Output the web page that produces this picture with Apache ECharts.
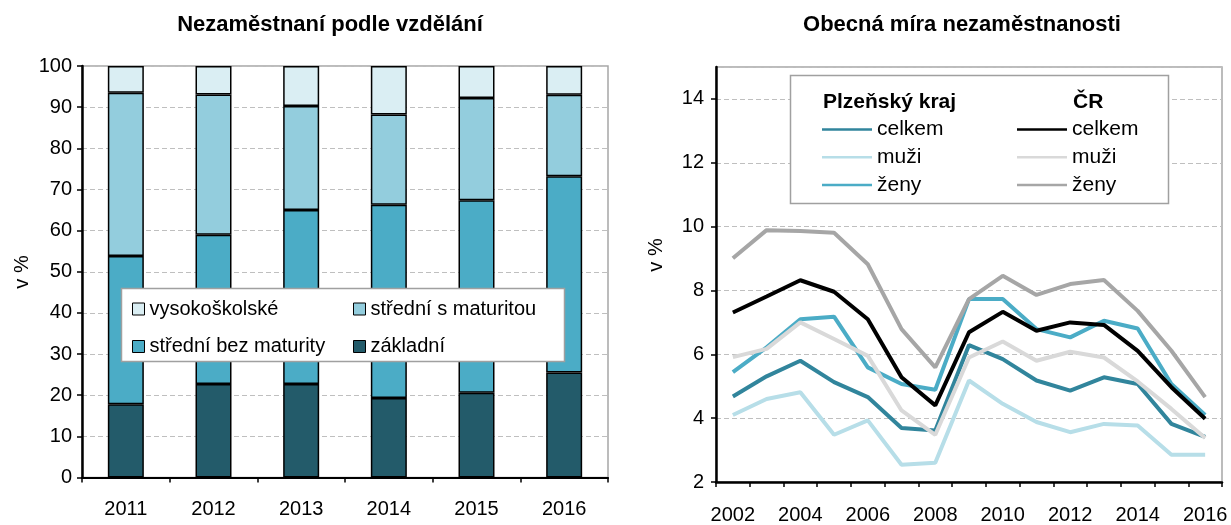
<!DOCTYPE html>
<html>
<head>
<meta charset="utf-8">
<script src="https://cdn.jsdelivr.net/npm/echarts@6/dist/echarts.min.js"></script>
<style>
html,body{margin:0;padding:0;background:#fff;}
#c{width:1231px;height:525px;}
</style>
</head>
<body>
<div id="c"></div>
<script>
// ---- Left chart data ----
const eduYears = ['2011','2012','2013','2014','2015','2016'];
const zakladni = [17.8, 22.7, 22.7, 19.3, 20.6, 25.5];
const stredniBez = [36.0, 36.3, 42.3, 47.0, 46.8, 47.7];
const stredniS = [39.7, 34.1, 25.3, 21.9, 24.8, 19.8];
const vysoko = [6.5, 6.9, 9.7, 11.8, 7.8, 7.0];
const eduTicks = [0, 10, 20, 30, 40, 50, 60, 70, 80, 90, 100];

// ---- Right chart data ----
const rateYears = ['2002','2003','2004','2005','2006','2007','2008','2009','2010','2011','2012','2013','2014','2015','2016'];
const plzenCelkem = [4.68, 5.31, 5.80, 5.13, 4.66, 3.69, 3.61, 6.29, 5.85, 5.18, 4.86, 5.28, 5.07, 3.82, 3.41];
const plzenMuzi   = [4.10, 4.60, 4.81, 3.48, 3.93, 2.54, 2.60, 5.18, 4.45, 3.88, 3.56, 3.82, 3.77, 2.85, 2.85];
const plzenZeny   = [5.44, 6.22, 7.10, 7.18, 5.59, 5.07, 4.89, 7.73, 7.73, 6.79, 6.53, 7.05, 6.81, 5.07, 4.10];
const crCelkem    = [7.31, 7.81, 8.32, 7.96, 7.10, 5.28, 4.40, 6.69, 7.33, 6.74, 7.00, 6.92, 6.11, 4.97, 3.98];
const crMuzi      = [5.91, 6.17, 7.00, 6.48, 5.95, 4.24, 3.48, 5.90, 6.40, 5.80, 6.08, 5.90, 5.15, 4.29, 3.38];
const crZeny      = [9.01, 9.89, 9.86, 9.81, 8.82, 6.79, 5.59, 7.73, 8.46, 7.86, 8.20, 8.33, 7.36, 6.11, 4.66];

const FONT = '"Liberation Sans", Arial, sans-serif';
const chart = echarts.init(document.getElementById('c'));

function bar(name, data, color) {
  return {
    name, type: 'bar', stack: 'edu', data, xAxisIndex: 0, yAxisIndex: 0,
    barWidth: 36,
    itemStyle: { color, borderColor: '#000', borderWidth: 1.5 },
    emphasis: { disabled: true }
  };
}
function line(name, data, color) {
  return {
    name, type: 'line', data, xAxisIndex: 1, yAxisIndex: 1,
    symbol: 'none', lineStyle: { color, width: 4 }, itemStyle: { color },
    emphasis: { disabled: true }
  };
}

const axisLabelStyle = { color: '#000', fontSize: 20, fontFamily: FONT };

chart.setOption({
  animation: false,
  textStyle: { fontFamily: FONT },
  grid: [
    { left: 82, right: 623, top: 66, bottom: 47.5, show: true, borderColor: '#a6a6a6', borderWidth: 1.5, containLabel: false },
    { left: 716, right: 9, top: 67, bottom: 43, show: true, borderColor: '#a6a6a6', borderWidth: 1.5, containLabel: false }
  ],
  xAxis: [
    { type: 'category', gridIndex: 0, data: eduYears,
      axisLine: { lineStyle: { color: '#000', width: 2 } },
      axisTick: { show: true, length: 5, lineStyle: { color: '#000', width: 1.5 } },
      axisLabel: Object.assign({ margin: 22 }, axisLabelStyle) },
    { type: 'category', gridIndex: 1, data: rateYears, boundaryGap: true,
      axisLine: { lineStyle: { color: '#000', width: 2.5 } },
      axisTick: { show: true, interval: 0, length: 5, lineStyle: { color: '#000', width: 1.5 } },
      axisLabel: Object.assign({ margin: 23, interval: 1 }, axisLabelStyle) }
  ],
  yAxis: [
    { type: 'value', gridIndex: 0, min: eduTicks[0], max: eduTicks[eduTicks.length - 1], interval: 10,
      axisLine: { show: true, lineStyle: { color: '#000', width: 2.5 } },
      axisTick: { show: true, length: 5, lineStyle: { color: '#000', width: 1.5 } },
      axisLabel: Object.assign({ margin: 10 }, axisLabelStyle),
      splitLine: { show: true, lineStyle: { color: '#bfbfbf', type: [5, 3], width: 1.2 } } },
    { type: 'value', gridIndex: 1, min: 2, max: 15, interval: 2,
      axisLine: { show: true, lineStyle: { color: '#000', width: 2.5 } },
      axisTick: { show: true, length: 5, lineStyle: { color: '#000', width: 1.5 } },
      axisLabel: Object.assign({ margin: 12, showMaxLabel: false,
        formatter: v => (v === 15 ? '' : String(v)) }, axisLabelStyle),
      splitLine: { show: true, lineStyle: { color: '#bfbfbf', type: [5, 3], width: 1.2 } } }
  ],
  legend: [
    { orient: 'vertical', left: 132, top: 299, padding: 0, itemGap: 17.5, z: 20,
      itemWidth: 12, itemHeight: 12, icon: 'rect',
      data: ['vysokoškolské', 'střední bez maturity'],
      textStyle: { fontSize: 20, color: '#000', lineHeight: 20, fontFamily: FONT },
      itemStyle: { borderColor: '#000', borderWidth: 1 } },
    { orient: 'vertical', left: 353, top: 299, padding: 0, itemGap: 17.5, z: 20,
      itemWidth: 12, itemHeight: 12, icon: 'rect',
      data: ['střední s maturitou', 'základní'],
      textStyle: { fontSize: 20, color: '#000', lineHeight: 20, fontFamily: FONT },
      itemStyle: { borderColor: '#000', borderWidth: 1 } },
    { orient: 'vertical', left: 822, top: 119, padding: 0, itemGap: 6.7, z: 20,
      itemWidth: 50, itemHeight: 2.5, icon: 'rect',
      data: ['Plzeňský kraj – celkem', 'Plzeňský kraj – muži', 'Plzeňský kraj – ženy'],
      formatter: n => n.split(' – ')[1],
      textStyle: { fontSize: 21, color: '#000', lineHeight: 20, fontFamily: FONT } },
    { orient: 'vertical', left: 1017, top: 119, padding: 0, itemGap: 6.7, z: 20,
      itemWidth: 50, itemHeight: 2.5, icon: 'rect',
      data: ['ČR – celkem', 'ČR – muži', 'ČR – ženy'],
      formatter: n => n.split(' – ')[1],
      textStyle: { fontSize: 21, color: '#000', lineHeight: 20, fontFamily: FONT } }
  ],
  graphic: [
    { type: 'text', x: 330, y: 25, z: 10, style: { text: 'Nezaměstnaní podle vzdělání', font: 'bold 22px ' + FONT, fill: '#000', textAlign: 'center', textVerticalAlign: 'middle' } },
    { type: 'text', x: 962, y: 25, z: 10, style: { text: 'Obecná míra nezaměstnanosti', font: 'bold 22px ' + FONT, fill: '#000', textAlign: 'center', textVerticalAlign: 'middle' } },
    { type: 'text', x: 22, y: 272, rotation: Math.PI / 2, z: 10, style: { text: 'v %', font: '20px ' + FONT, fill: '#000', textAlign: 'center', textVerticalAlign: 'middle' } },
    { type: 'text', x: 656, y: 255, rotation: Math.PI / 2, z: 10, style: { text: 'v %', font: '20px ' + FONT, fill: '#000', textAlign: 'center', textVerticalAlign: 'middle' } },
    { type: 'rect', z: 3, shape: { x: 121.5, y: 288.5, width: 443, height: 73 }, style: { fill: '#fff', stroke: '#a0a0a0', lineWidth: 1.5 } },
    { type: 'rect', z: 3, shape: { x: 790.5, y: 75.5, width: 378, height: 128 }, style: { fill: '#fff', stroke: '#a0a0a0', lineWidth: 1.5 } },
    { type: 'text', x: 823, y: 102, z: 10, style: { text: 'Plzeňský kraj', font: 'bold 21px ' + FONT, fill: '#000', textVerticalAlign: 'middle' } },
    { type: 'text', x: 1073, y: 102, z: 10, style: { text: 'ČR', font: 'bold 21px ' + FONT, fill: '#000', textVerticalAlign: 'middle' } }
  ],
  series: [
    bar('základní', zakladni, '#235b6a'),
    bar('střední bez maturity', stredniBez, '#4bacc6'),
    bar('střední s maturitou', stredniS, '#93cddd'),
    bar('vysokoškolské', vysoko, '#daeef3'),
    line('Plzeňský kraj – celkem', plzenCelkem, '#31859c'),
    line('Plzeňský kraj – muži', plzenMuzi, '#b7dee8'),
    line('Plzeňský kraj – ženy', plzenZeny, '#4bacc6'),
    line('ČR – celkem', crCelkem, '#000000'),
    line('ČR – muži', crMuzi, '#d9d9d9'),
    line('ČR – ženy', crZeny, '#a6a6a6')
  ]
});
</script>
</body>
</html>
